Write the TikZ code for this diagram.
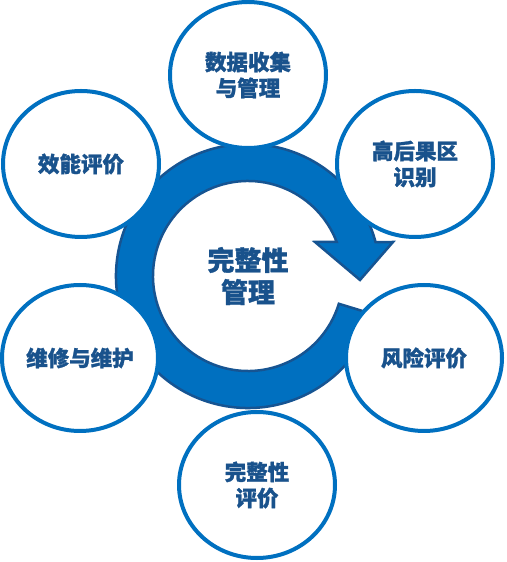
\documentclass[tikz,border=0pt]{standalone}
\usepackage{fontspec}
\newfontfamily\cjk{Noto Sans CJK SC}[BoldFeatures={FakeBold=1.2}]
\usetikzlibrary{shapes.geometric}
\usetikzlibrary{calc}
\definecolor{ringblue}{RGB}{0,112,192}
\definecolor{ringdark}{RGB}{22,84,146}
\definecolor{circblue}{RGB}{0,112,192}
\definecolor{textblue}{RGB}{25,82,140}
\tikzset{
	stagestyle/.style={ellipse, draw=circblue, line width=4pt, fill=white,
		minimum width=156pt, minimum height=146pt, inner sep=0pt, align=center,
		text=textblue, font=\cjk\bfseries\fontsize{21.5}{26}\selectfont},
	hubstyle/.style={align=center, text=textblue,
		font=\cjk\bfseries\fontsize{27}{32}\selectfont},
	ringstyle/.style={fill=ringblue, draw=ringdark, line width=2.5pt, line join=miter}
}

\begin{document}
\begin{tikzpicture}[x=1pt, y=1pt]
\useasboundingbox (0,0) rectangle (506,562);

\def\rin{95}
\def\rout{132}

\coordinate (hub) at (248,286);
\coordinate (barbout) at (393,320);
\coordinate (tip) at (360,282);
\coordinate (barbin) at (315,320);

% circular arrow
\path[ringstyle] ($(hub)+(-17:\rout)$) arc[start angle=-17, end angle=-345.1, radius=\rout pt]
	-- (barbout) -- (tip) -- (barbin) -- ($(hub)+(21:\rin)$)
	arc[start angle=21, end angle=343, radius=\rin pt] -- cycle;

\node[hubstyle] (core) at (hub) {完整性\\管理};

\node[stagestyle] (data)   at (248,487) {数据收集\\与管理};
\node[stagestyle] (hca)    at (415,398) {高后果区\\识别};
\node[stagestyle] (risk)   at (424,204) {风险评价};
\node[stagestyle] (assess) at (257,77)  {完整性\\评价};
\node[stagestyle] (repair) at (80,204)  {维修与维护};
\node[stagestyle] (perf)   at (81,398)  {效能评价};
\end{tikzpicture}
\end{document}
